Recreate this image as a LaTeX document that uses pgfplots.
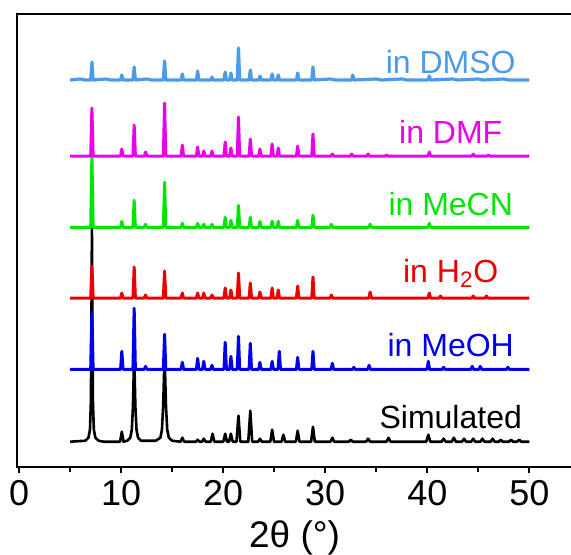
\documentclass[border=0pt]{standalone}
\usepackage{fontspec}
\setmainfont{Liberation Sans}
\usepackage{pgfplots}
\pgfplotsset{compat=1.18}
\definecolor{cdmso}{RGB}{77,155,232}
\definecolor{cdmf}{RGB}{235,0,235}
\definecolor{cmecn}{RGB}{0,230,0}
\definecolor{ch2o}{RGB}{235,0,0}
\definecolor{cmeoh}{RGB}{0,0,235}
\begin{document}
\begin{tikzpicture}
\path[use as bounding box] (-8.5pt,-43.5pt) rectangle (277pt,233.5pt);
\begin{axis}[at={(0pt,0pt)}, anchor=south west, scale only axis, width=277.6pt, height=226.5pt,
  xmin=-0.2, xmax=54.2, ymin=0, ymax=453,
  xtick pos=bottom,
  ytick=\empty, xtick={0,10,...,50}, minor xtick={5,15,...,45},
  tick align=outside, major tick length=3pt, minor tick length=2.5pt,
  tick style={line width=1pt, black},
  axis line style={line width=1pt},
  xlabel={2θ (°)},
  ticklabel style={font=\fontsize{18}{18}\selectfont},
  xlabel style={font=\fontsize{18.5}{18.5}\selectfont, yshift=-0.5pt},
  /pgf/number format/assume math mode=true,
  every axis plot/.append style={line join=round}]
% Simulated
\addplot[black, line width=1.3pt, y filter/.expression={y+25.3}] coordinates {
(5,0) (6.5,1) (6.8,4) (6.95,12) (7.04,40) (7.10,130) (7.14,214) (7.18,130) (7.24,40) (7.33,12) (7.48,4) (7.8,1) (8.3,0)
(9.9,0) (10.07,10) (10.24,0) (10.6,1) (10.9,4) (11.05,12) (11.16,35) (11.24,70) (11.28,85) (11.32,70) (11.40,35) (11.51,12) (11.66,4) (11.95,1)
(13.4,1) (13.85,4) (14.0,12) (14.12,35) (14.21,68) (14.26,82) (14.31,68) (14.40,35) (14.52,12) (14.68,4) (15.0,1)
(15.82,0) (16.0,4) (16.18,0) (17.32,0) (17.5,2) (17.68,0) (17.92,0) (18.1,3) (18.28,0) (18.78,0) (18.96,8) (19.14,0)
(20.02,0) (20.2,8) (20.38,0) (20.58,0) (20.76,8) (20.94,0) (21.3,0) (21.5,26) (21.68,0) (22.46,0) (22.66,31) (22.84,0)
(23.42,0) (23.6,3) (23.78,0) (24.62,0) (24.8,12) (24.98,0) (25.72,0) (25.9,7) (26.08,0) (27.12,0) (27.3,11) (27.48,0)
(28.62,0) (28.8,15) (28.98,0) (30.52,0) (30.7,4) (30.88,0) (32.3,0) (32.5,2) (32.7,0) (34.0,0) (34.2,3) (34.4,0)
(36.0,0) (36.2,4) (36.4,0) (39.9,0) (40.1,7) (40.3,0) (41.4,0) (41.6,3) (41.8,0) (42.4,0) (42.6,4) (42.8,0)
(43.4,0) (43.6,3) (43.8,0) (44.3,0) (44.5,3) (44.7,0) (45.2,0) (45.4,3) (45.6,0) (46.2,0) (46.4,3) (46.6,0)
(47.0,0) (47.2,2) (47.4,0) (48.0,0) (48.2,2) (48.4,0) (48.8,0) (49.0,2) (49.2,0) (50,0)};
% MeOH
\addplot[cmeoh, line width=1.5pt, y filter/.expression={y+97.7}] coordinates {
(5,0) (7.02,0) (7.14,56) (7.26,0) (9.95,0) (10.07,18) (10.19,0) (11.16,0) (11.28,61) (11.40,0) (12.28,0) (12.4,3) (12.52,0)
(14.14,0) (14.26,35) (14.38,0) (15.88,0) (16.0,7) (16.12,0) (17.38,0) (17.5,11) (17.62,0) (17.98,0) (18.1,8) (18.22,0)
(18.78,0) (18.9,4) (19.02,0) (20.08,0) (20.2,27) (20.32,0) (20.64,0) (20.76,13) (20.88,0) (21.38,0) (21.5,33) (21.62,0)
(22.54,0) (22.66,26) (22.78,0) (23.48,0) (23.6,7) (23.72,0) (24.68,0) (24.8,8) (24.92,0) (25.38,0) (25.5,18) (25.62,0)
(27.18,0) (27.3,12) (27.42,0) (28.68,0) (28.8,18) (28.92,0) (30.58,0) (30.7,6) (30.82,0) (32.68,0) (32.8,2) (32.92,0)
(34.18,0) (34.3,4) (34.42,0) (39.98,0) (40.1,8) (40.22,0) (41.48,0) (41.6,2) (41.72,0) (44.28,0) (44.4,3) (44.52,0)
(45.08,0) (45.2,3) (45.32,0) (47.78,0) (47.9,2) (48.02,0) (50,0)};
% H2O
\addplot[ch2o, line width=1.5pt, y filter/.expression={y+169}] coordinates {
(5,0) (7.02,0) (7.14,32) (7.26,0) (9.95,0) (10.07,5) (10.19,0) (11.16,0) (11.28,31) (11.40,0) (12.28,0) (12.4,3) (12.52,0)
(14.14,0) (14.26,27) (14.38,0) (15.88,0) (16.0,5) (16.12,0) (17.38,0) (17.5,5) (17.62,0) (17.98,0) (18.1,5) (18.22,0)
(18.78,0) (18.9,3) (19.02,0) (20.08,0) (20.2,10) (20.32,0) (20.64,0) (20.76,8) (20.88,0) (21.38,0) (21.5,25) (21.62,0)
(22.54,0) (22.66,15) (22.78,0) (23.48,0) (23.6,6) (23.72,0) (24.68,0) (24.8,10) (24.92,0) (25.28,0) (25.4,8) (25.52,0)
(27.18,0) (27.3,12) (27.42,0) (28.68,0) (28.8,21) (28.92,0) (30.48,0) (30.6,3) (30.72,0) (34.28,0) (34.4,6) (34.52,0)
(40.08,0) (40.2,5) (40.32,0) (41.18,0) (41.3,2) (41.42,0) (44.38,0) (44.5,2) (44.62,0) (45.68,0) (45.8,2) (45.92,0) (50,0)};
% MeCN
\addplot[cmecn, line width=1.5pt, y filter/.expression={y+239.7}] coordinates {
(5,0) (7.02,0) (7.14,72) (7.26,0) (9.95,0) (10.07,6) (10.19,0) (11.16,0) (11.28,27) (11.40,0) (12.28,0) (12.4,3) (12.52,0)
(14.14,0) (14.26,45) (14.38,0) (15.88,0) (16.0,4) (16.12,0) (17.38,0) (17.5,4) (17.62,0) (17.98,0) (18.1,3) (18.22,0)
(18.78,0) (18.9,3) (19.02,0) (20.08,0) (20.2,10) (20.32,0) (20.64,0) (20.76,7) (20.88,0) (21.38,0) (21.5,22) (21.62,0)
(22.54,0) (22.66,10) (22.78,0) (23.48,0) (23.6,6) (23.72,0) (24.68,0) (24.8,6) (24.92,0) (25.28,0) (25.4,6) (25.52,0)
(27.18,0) (27.3,7) (27.42,0) (28.68,0) (28.8,12) (28.92,0) (30.48,0) (30.6,3) (30.72,0) (34.28,0) (34.4,3) (34.52,0)
(40.08,0) (40.2,4) (40.32,0) (50,0)};
% DMF
\addplot[cdmf, line width=1.5pt, y filter/.expression={y+311}] coordinates {
(5,0) (7.02,0) (7.14,48) (7.26,0) (9.95,0) (10.07,7) (10.19,0) (11.16,0) (11.28,31) (11.40,0) (12.28,0) (12.4,4) (12.52,0)
(14.14,0) (14.26,53) (14.38,0) (15.88,0) (16.0,11) (16.12,0) (17.38,0) (17.5,9) (17.62,0) (17.98,0) (18.1,5) (18.22,0)
(18.78,0) (18.9,5) (19.02,0) (20.08,0) (20.2,14) (20.32,0) (20.64,0) (20.76,8) (20.88,0) (21.38,0) (21.5,39) (21.62,0)
(22.54,0) (22.66,17) (22.78,0) (23.48,0) (23.6,7) (23.72,0) (24.68,0) (24.8,12) (24.92,0) (25.28,0) (25.4,8) (25.52,0)
(27.18,0) (27.3,10) (27.42,0) (28.68,0) (28.8,22) (28.92,0) (30.58,0) (30.7,2) (30.82,0) (32.48,0) (32.6,2) (32.72,0)
(34.08,0) (34.2,2) (34.32,0) (35.88,0) (36.0,1) (36.12,0) (40.08,0) (40.2,4) (40.32,0) (44.38,0) (44.5,2) (44.62,0)
(45.88,0) (46.0,1) (46.12,0) (50,0)};
% DMSO
\addplot[cdmso, line width=1.6pt, y filter/.expression={y+387}] coordinates {
(5,0) (6,1) (6.5,0) (7.02,0) (7.14,18) (7.26,0) (8.5,1) (9.0,0) (9.95,0) (10.07,5) (10.19,0) (11.16,0) (11.28,13) (11.40,0)
(12.5,1) (13.0,0) (14.14,0) (14.26,19) (14.38,0) (15.88,0) (16.0,6) (16.12,0) (17.38,0) (17.5,9) (17.62,0) (18.78,0) (18.9,3) (19.02,0)
(20.08,0) (20.2,8) (20.32,0) (20.64,0) (20.76,7) (20.88,0) (21.38,0) (21.5,32) (21.62,0) (22.54,0) (22.66,10) (22.78,0)
(23.48,0) (23.6,4) (23.72,0) (24.68,0) (24.8,6) (24.92,0) (25.28,0) (25.4,5) (25.52,0) (27.18,0) (27.3,7) (27.42,0)
(28.68,0) (28.8,13) (28.92,0) (30.5,1) (31,0) (32.58,0) (32.7,5) (32.82,0) (35,1) (35.5,0) (37.5,1) (38,0)
(40.08,0) (40.2,4) (40.32,0) (42.5,1) (43,0) (45,1) (45.5,0) (47.5,1) (48,0) (50,0)};
\begin{scope}[every node/.style={anchor=base, font=\fontsize{16}{16}\selectfont}]
\node[text=cdmso] at (axis cs:42.3,394) {in DMSO};
\node[text=cdmf] at (axis cs:42.3,324) {in DMF};
\node[text=cmecn] at (axis cs:42.3,252) {in MeCN};
\node[text=ch2o] at (axis cs:42.3,185) {in H\textsubscript{2}O};
\node[text=cmeoh] at (axis cs:42.3,111) {in MeOH};
\node[text=black] at (axis cs:42.3,39) {Simulated};
\end{scope}
\end{axis}
\draw[line width=1.4pt] (-0.7pt,226.5pt) -- (278pt,226.5pt);
\end{tikzpicture}
\end{document}
